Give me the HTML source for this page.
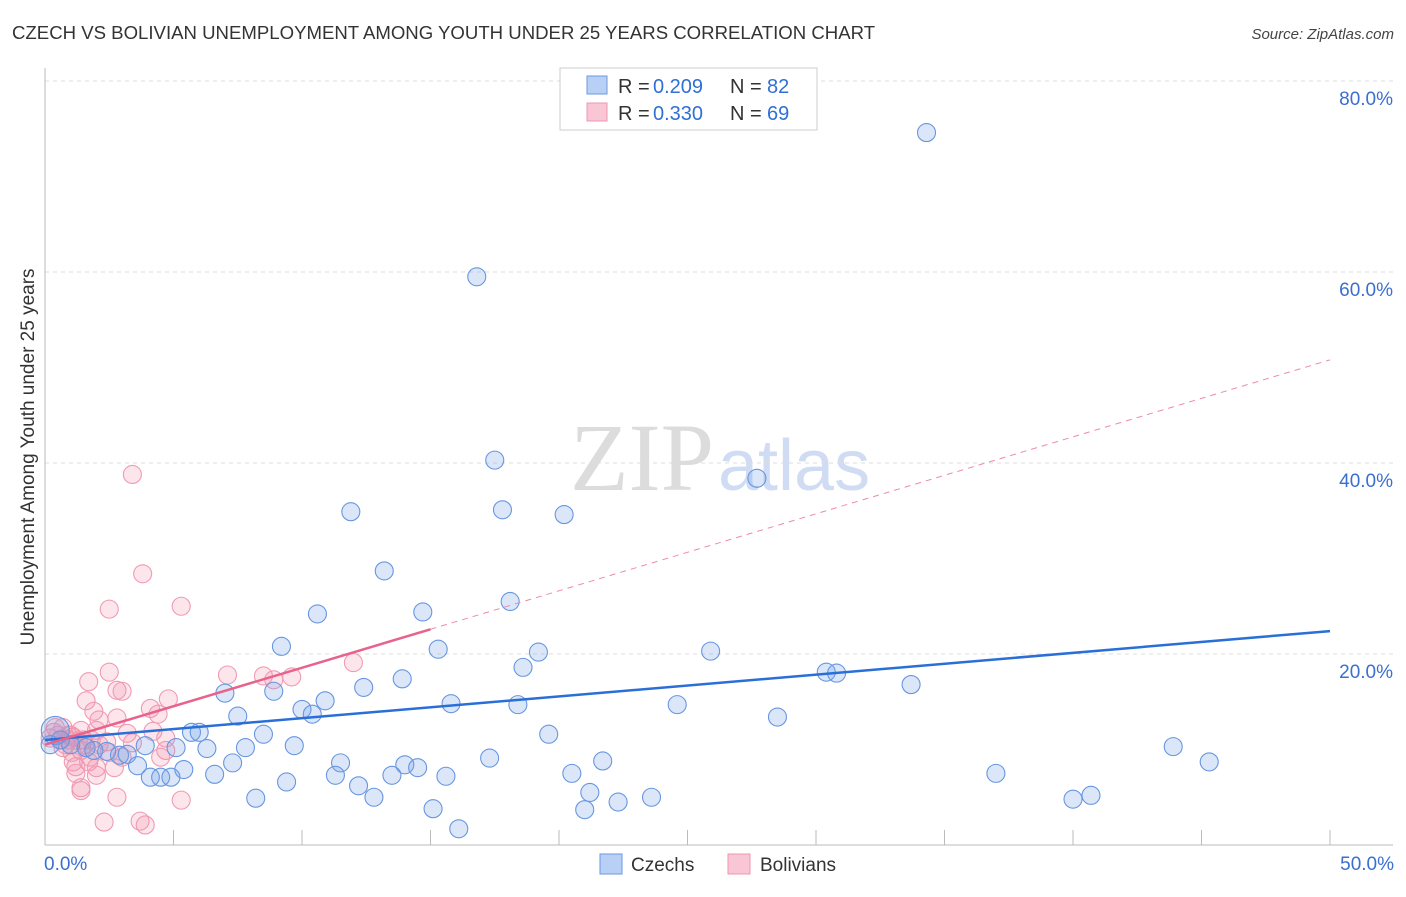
<!DOCTYPE html>
<html><head><meta charset="utf-8"><style>
body{margin:0;background:#fff;font-family:"Liberation Sans",sans-serif;}
</style></head><body>
<svg id="chart" width="1406" height="892" xmlns="http://www.w3.org/2000/svg" font-family="Liberation Sans, sans-serif">
<text x="12" y="39" font-size="18.6" fill="#333">CZECH VS BOLIVIAN UNEMPLOYMENT AMONG YOUTH UNDER 25 YEARS CORRELATION CHART</text>
<text x="1394" y="39" font-size="15" fill="#444" text-anchor="end" font-style="italic">Source: ZipAtlas.com</text>
<text x="714" y="490" font-size="96" fill="#dcdcdc" style="font-family:'Liberation Serif',serif" text-anchor="end">ZIP</text>
<text x="718" y="490" font-size="72" fill="#cfdcf3">atlas</text>
<g id="grid"></g>
<g id="axes"></g>
<g id="marks"></g>
<text transform="translate(34,457) rotate(-90)" font-size="19" fill="#333" text-anchor="middle">Unemployment Among Youth under 25 years</text>
<g>
<rect x="560" y="68" width="257" height="62" fill="#fff" stroke="#ccc"/>
<rect x="587" y="76" width="20" height="18" fill="#b8d0f5" stroke="#6a9ae0"/>
<rect x="587" y="103" width="20" height="18" fill="#f9c6d6" stroke="#ee95b0"/>
<text x="618" y="93" font-size="20" fill="#333">R =</text>
<text x="653" y="93" font-size="20" fill="#2f6fd6">0.209</text>
<text x="730" y="93" font-size="20" fill="#333">N =</text>
<text x="767" y="93" font-size="20" fill="#2f6fd6">82</text>
<text x="618" y="120" font-size="20" fill="#333">R =</text>
<text x="653" y="120" font-size="20" fill="#2f6fd6">0.330</text>
<text x="730" y="120" font-size="20" fill="#333">N =</text>
<text x="767" y="120" font-size="20" fill="#2f6fd6">69</text>
</g>
<g>
<rect x="600" y="854" width="22" height="20" fill="#b8d0f5" stroke="#6a9ae0"/>
<text x="631" y="871" font-size="19" fill="#333">Czechs</text>
<rect x="728" y="854" width="22" height="20" fill="#f9c6d6" stroke="#ee95b0"/>
<text x="760" y="871" font-size="19" fill="#333">Bolivians</text>
</g>
</svg>
<script>
const yTicks=[20,40,60,80];
const yTickLabels=["20.0%","40.0%","60.0%","80.0%"];
const xTickLabels=["0.0%","50.0%"];
const czechX=[34.3,16.8,17.5,27.7,11.9,17.8,20.2,13.2,18.1,10.6,14.7,9.2,15.3,19.2,25.9,18.6,30.4,30.8,7.0,8.9,12.4,13.9,33.7,10.9,10.0,10.4,15.8,18.4,24.6,7.5,28.5,5.7,6.0,8.5,19.6,43.9,9.7,5.1,6.3,7.8,3.9,2.4,2.9,3.2,17.3,21.7,45.3,11.5,7.3,3.6,5.4,14.0,14.5,4.1,4.5,4.9,6.6,11.3,13.5,15.6,20.5,37.0,9.4,12.2,21.2,40.7,8.2,12.8,23.6,40.0,22.3,15.1,21.0,16.1,0.6,1.0,1.6,1.9,0.2,0.4];
const czechY=[74.6,59.5,40.3,38.4,34.9,35.1,34.6,28.7,25.5,24.2,24.4,20.8,20.5,20.2,20.3,18.6,18.1,18.0,15.9,16.1,16.5,17.4,16.8,15.1,14.2,13.7,14.8,14.7,14.7,13.5,13.4,11.8,11.8,11.6,11.6,10.3,10.4,10.2,10.1,10.2,10.4,9.8,9.4,9.5,9.1,8.8,8.7,8.6,8.6,8.3,7.9,8.4,8.1,7.1,7.1,7.1,7.4,7.3,7.3,7.2,7.5,7.5,6.6,6.2,5.5,5.2,4.9,5.0,5.0,4.8,4.5,3.8,3.7,1.7,11.0,10.5,10.2,9.9,10.5,12.0];
const bolX=[3.4,3.8,5.3,2.5,2.5,7.1,8.5,8.9,9.6,12.0,1.7,2.8,3.0,4.8,1.6,4.1,1.9,4.4,2.8,2.1,3.2,4.2,2.0,1.1,1.5,3.4,2.4,4.7,4.7,2.5,3.0,1.7,1.1,2.0,1.2,2.7,4.5,1.2,2.0,1.4,1.4,2.8,5.3,2.3,3.7,3.9,0.35,0.6,0.8,1.0,0.2,0.4,1.4,1.75,2.1,1.4,0.7,0.5,0.9,0.7,1.05,1.55,1.8,0.9,1.3];
const bolY=[38.8,28.4,25.0,24.7,18.1,17.8,17.7,17.3,17.6,19.1,17.1,16.2,16.1,15.3,15.1,14.3,14.0,13.7,13.3,13.1,11.7,11.9,12.0,11.3,11.0,10.7,10.8,11.2,9.9,9.7,9.2,8.7,8.7,8.1,8.2,8.1,9.2,7.5,7.3,6.0,5.7,5.0,4.7,2.4,2.5,2.1,11.8,11.0,10.5,11.5,11.2,12.3,9.9,9.2,10.5,12.0,10.2,11.5,11.0,12.3,9.7,10.5,11.0,11.5,10.9];
const czechTrend=[11.0,22.4];
const bolTrend=[10.5,50.8];
const bolSolidEnd=15;
const NS="http://www.w3.org/2000/svg";
const X=v=>45+v*25.7, Y=v=>845-v*9.55;
function mk(tag,at,parent){const e=document.createElementNS(NS,tag);for(const k in at)e.setAttribute(k,at[k]);document.getElementById(parent).appendChild(e);return e;}
yTicks.forEach((t,i)=>{
 const g=mk('line',{x1:45,x2:1393,y1:Y(t),y2:Y(t),stroke:'#ddd','stroke-dasharray':'4,4'},'grid');
 
 
 const l=mk('text',{x:1393,y:Y(t)+24,'font-size':19,fill:'#3a6fd0','text-anchor':'end'},'axes');
 l.textContent=yTickLabels[i];
 
 
});
const ax=mk('line',{x1:45,x2:1393,y1:845,y2:845,stroke:'#bbb'},'axes');


const ay=mk('line',{x1:45,x2:45,y1:68,y2:845,stroke:'#bbb'},'axes');


for(let i=0;i<=10;i++){const t=mk('line',{x1:X(i*5),x2:X(i*5),y1:830,y2:845,stroke:'#bbb'},'axes');
 
 }
[[0,'start',44],[50,'end',1394]].forEach((d,i)=>{const t=mk('text',{x:d[2],y:870,'font-size':19,fill:'#3a6fd0','text-anchor':d[1]},'axes');t.textContent=xTickLabels[i];
 
 });
function pts(xs,ys,fill,stroke,name){xs.forEach((x,i)=>{const r=(x<0.5&&ys[i]>11.8&&name==='czech-point')?14:9;
 const c=mk('circle',{cx:X(x),cy:Y(ys[i]),r:r,fill:fill,stroke:stroke,'stroke-width':1.1},'marks');
 
 });}
pts(bolX,bolY,'rgba(240,140,170,0.22)','#f09ab3','bolivian-point');
pts(czechX,czechY,'rgba(110,160,230,0.25)','#6796e0','czech-point');
const bt=mk('line',{x1:X(0),y1:Y(czechTrend[0]),x2:X(50),y2:Y(czechTrend[1]),stroke:'#2a6fd8','stroke-width':2.5},'marks');


const pv=x=>bolTrend[0]+(bolTrend[1]-bolTrend[0])*x/50;
const ps=mk('line',{x1:X(0),y1:Y(pv(0)),x2:X(bolSolidEnd),y2:Y(pv(bolSolidEnd)),stroke:'#e8628c','stroke-width':2.5},'marks');


const pd=mk('line',{x1:X(bolSolidEnd),y1:Y(pv(bolSolidEnd)),x2:X(50),y2:Y(pv(50)),stroke:'#ee8aa8','stroke-width':1,'stroke-dasharray':'6,5'},'marks');


</script>
</body></html>
